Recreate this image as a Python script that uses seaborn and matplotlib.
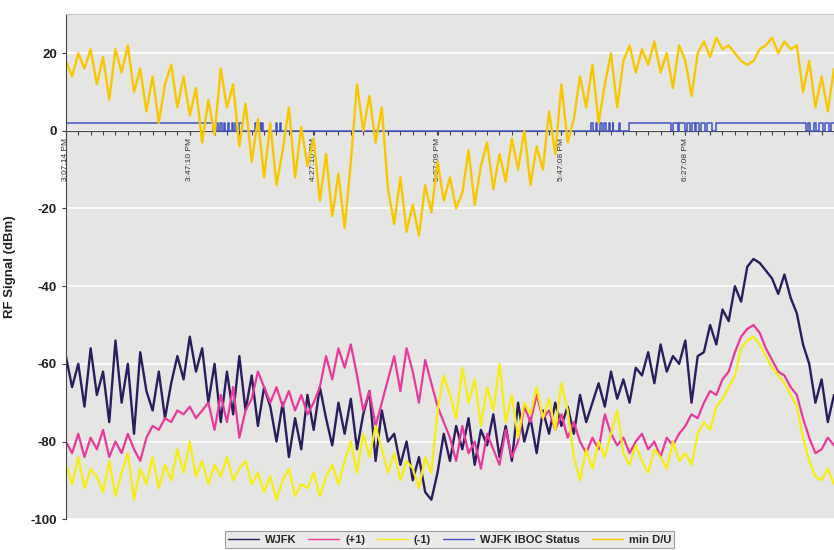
import numpy as np
import pandas as pd
import matplotlib
matplotlib.use("Agg")
import matplotlib.pyplot as plt
from matplotlib.ticker import MultipleLocator
import seaborn as sns

# minutes since 3:07:14 PM, one sample every 2 minutes
minutes = list(range(0, 250, 2))

min_du = [18, 14, 20, 16, 21, 12,
          19, 8, 21, 15, 22, 10,
          16, 5, 14, 2, 12, 17, 6, 14,
          4, 11, -3, 8, -1, 16, 6,
          12, -4, 7, -8, 3, -12,
          2, -14, -5, 6, -12, 1, -9,
          -2, -18, -6, -22, -11, -25,
          -8, 12, 0, 9, -3, 6,
          -15, -24, -12, -26, -19, -27,
          -14, -21, -8, -18, -12, -20,
          -16, -5, -19, -9, -3, -15,
          -6, -13, -2, -10, 0, -14, -4,
          -10, 5, -6, 12, -3,
          3, 14, 6, 17, 2,
          12, 20, 6, 18, 22, 15,
          21, 17, 23, 15, 20, 11, 22, 18, 9, 20,
          23, 19, 24, 21, 22, 20,
          18, 17, 18, 21,
          22, 24, 20, 23, 21, 22,
          10, 18, 6, 14, 5, 16]

wjfk = [-58, -66, -60, -71, -56, -68, -62,
        -75, -54, -70, -60, -78, -57, -67,
        -72, -62, -74, -65,
        -58, -64, -53, -62, -56,
        -70, -60, -75, -62, -73, -58,
        -72, -63, -76, -66, -71,
        -80, -70, -84, -74, -82,
        -68, -77, -66, -74,
        -81, -70, -78, -69, -82, -73,
        -67, -85, -72, -80,
        -78, -86, -80, -90, -84, -93, -95,
        -88, -78, -85, -76,
        -82, -74, -86, -77, -81, -73, -84,
        -76, -85, -70, -80, -74, -83,
        -72, -78, -70, -76, -71,
        -78, -68, -75, -70,
        -65, -71, -62, -69, -64, -70, -61,
        -63, -57, -65, -55, -62, -58,
        -60, -54, -70, -58,
        -57, -50, -55, -46, -49,
        -40, -44,
        -35, -33, -34, -36,
        -38, -42, -37, -43,
        -47, -55, -60,
        -70, -64, -75, -68]

plus1 = [-80, -83, -78, -84, -79, -82, -77, -84, -80, -83, -78, -82, -85,
         -79, -76, -77, -74, -75, -72,
         -73, -71, -74, -72,
         -70, -77, -68, -75, -66, -79, -72,
         -69, -62, -66,
         -70, -66, -71, -67, -72, -68, -73, -70,
         -66, -58, -64, -56, -61, -55, -63,
         -72, -67, -76, -70,
         -64, -58, -67, -56, -62, -70, -59, -65,
         -71, -75,
         -79, -85, -76, -83, -80, -87, -78,
         -82, -86, -77, -84, -80,
         -71, -75, -68, -74, -72,
         -77, -73, -79, -75,
         -80, -83, -79, -82, -73, -78,
         -81, -79, -83, -80, -78, -82, -80, -84, -79, -81, -78,
         -76, -73, -74, -70, -67,
         -68, -64, -62, -57,
         -53, -51, -50, -52,
         -56, -59, -62,
         -63, -66, -68,
         -74, -79, -83,
         -82, -79, -81]

minus1 = [-86, -91, -84, -92, -87, -89, -93,
          -85, -94, -88, -83, -95, -87, -91, -84, -92,
          -86, -90, -82, -88, -80, -89, -85,
          -91, -86, -89, -84, -90, -87, -85, -91,
          -88, -93, -89, -95, -90, -87, -94, -91,
          -92, -88, -94, -89, -86, -91,
          -85, -80, -88, -78, -84, -76, -82,
          -88, -83, -90, -85,
          -87, -92, -84, -88,
          -72, -63,
          -68, -74, -61, -70, -64, -76, -66, -72, -60,
          -75, -68, -79, -70, -73,
          -66, -74, -69, -77, -65, -72,
          -84, -90, -82, -87,
          -80, -84, -78,
          -72,
          -83, -86, -81, -85, -88, -82, -84, -87, -80, -85, -83, -86,
          -78, -75, -77, -71,
          -69, -66, -63,
          -56, -54, -53, -55,
          -58, -61, -63,
          -65, -68, -71,
          -79, -85, -89,
          -90, -87, -91]

# IBOC status: change points (minutes) and the level held from each one
iboc_time = [0, 47.5, 48.5, 49.0, 49.8, 50.3, 51.0, 51.5, 52.3, 52.8, 53.5, 54.0,
             54.6, 55.2, 56.0, 56.8, 61.0, 61.4, 62.6, 63.0, 63.4, 63.8, 68.0, 68.3,
             69.0, 69.3, 169.7, 170.3, 171.0, 171.6, 172.4, 173.0, 173.8, 174.4,
             175.3, 175.8, 176.5, 176.8, 178.6, 179.0, 181.9, 195.5, 196.0, 197.5,
             198.0, 200.0, 200.5, 201.5, 202.3, 203.0, 203.6, 204.5, 205.0, 206.5,
             207.0, 208.5, 210.0, 239.0, 239.6, 240.4, 241.5, 242.2, 243.0, 244.5,
             245.0, 246.5, 247.0, 248.0]
iboc_status = [2, 0, 2, 0, 2, 0, 2, 0, 2, 0, 2, 0,
               2, 0, 2, 0, 2, 0, 2, 0, 2, 0, 2, 0,
               2, 0, 2, 0, 2, 0, 2, 0, 2, 0,
               2, 0, 2, 0, 2, 0, 2, 0, 2, 0,
               2, 0, 2, 0, 2, 0, 2, 0, 2, 0,
               2, 0, 2, 0, 2, 0, 2, 0, 2, 0,
               2, 0, 2, 2]

tick_pos = [0, 39.93, 79.93, 119.92, 159.90, 199.90]
tick_labels = ["3:07:14 PM", "3:47:10 PM", "4:27:10 PM", "5:07:09 PM", "5:47:08 PM", "6:27:08 PM"]

sns.set_style("whitegrid", {"axes.facecolor": "#e5e5e3", "grid.color": "white",
                            "axes.edgecolor": "#444444"})
plt.rcParams["font.family"] = ["Liberation Sans", "DejaVu Sans"]
plt.rcParams["axes.unicode_minus"] = False

fig = plt.figure(figsize=(8.34, 5.5), dpi=100)
ax = fig.add_axes([0.079, 0.056, 0.921, 0.918])

sns.lineplot(x=minutes, y=wjfk, ax=ax, color="#2b1d5c", lw=1.7, label="WJFK", estimator=None)
sns.lineplot(x=minutes, y=plus1, ax=ax, color="#e83a9c", lw=1.6, label="(+1)", estimator=None)
sns.lineplot(x=minutes, y=minus1, ax=ax, color="#f6ee10", lw=1.6, label="(-1)", estimator=None)
sns.lineplot(x=iboc_time, y=iboc_status, ax=ax, color="#4353c4", lw=1.1,
             label="WJFK IBOC Status", estimator=None, drawstyle="steps-post")
sns.lineplot(x=minutes, y=min_du, ax=ax, color="#f7c800", lw=1.7, label="min D/U", estimator=None)

ax.set_xlim(0, 248)
ax.set_ylim(-100, 30)
ax.set_yticks([-100, -80, -60, -40, -20, 0, 20])
ax.set_yticklabels([str(v) for v in [-100, -80, -60, -40, -20, 0, 20]],
                   fontsize=9.5, fontweight="bold", color="#222222")
ax.set_ylabel("RF Signal (dBm)", fontsize=9.5, fontweight="bold", color="#222222", labelpad=10)
ax.set_xlabel("")
ax.grid(axis="x", visible=False)
ax.grid(axis="y", color="white", lw=1.2)

ax.spines["bottom"].set_position(("data", 0))
ax.spines["bottom"].set_zorder(1)
ax.spines["right"].set_visible(False)
ax.spines["top"].set_color("#c8c8c8")
ax.set_xticks(tick_pos)
ax.set_xticklabels(tick_labels, rotation=90, fontsize=6, color="#333333")
ax.xaxis.set_minor_locator(MultipleLocator(4))
ax.tick_params(axis="x", which="both", direction="out", length=3, width=0.8,
               color="#444444", bottom=True, pad=2)
ax.tick_params(axis="y", left=True, length=3, color="#444444")

leg = ax.legend(loc="center", bbox_to_anchor=(0.539, 0.019), bbox_transform=fig.transFigure,
                ncol=5, fontsize=8, frameon=True, fancybox=False, handlelength=2.8,
                columnspacing=1.1, handletextpad=0.5, borderpad=0.3)
leg.get_frame().set_edgecolor("#888888")
leg.get_frame().set_linewidth(0.8)
for txt in leg.get_texts():
    txt.set_fontweight("bold")
for h in leg.get_lines():
    h.set_linewidth(1.0)

fig.savefig("out.png", dpi=100)
